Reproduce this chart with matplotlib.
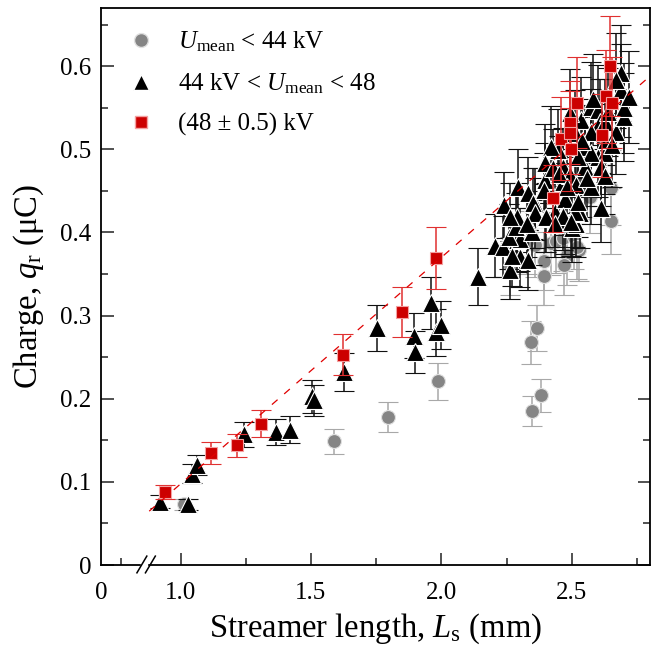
import matplotlib
matplotlib.use("Agg")
import matplotlib.pyplot as plt
from matplotlib.lines import Line2D

plt.rcParams['font.family'] = 'Liberation Serif'
plt.rcParams['mathtext.fontset'] = 'custom'
plt.rcParams['mathtext.rm'] = 'Liberation Serif'
plt.rcParams['mathtext.it'] = 'Liberation Serif:italic'

# U_mean < 44 kV (grey circles)
low_x = [1.015, 1.588, 1.794, 1.989, 2.344, 2.366, 2.347, 2.382, 2.393, 2.393,
         2.359, 2.42, 2.481, 2.469, 2.527, 2.649, 2.569, 2.649, 2.263, 2.33,
         2.44, 2.465, 2.508, 2.52]
low_y = [0.073, 0.149, 0.178, 0.221, 0.268, 0.285, 0.185, 0.204, 0.348, 0.366,
         0.385, 0.387, 0.373, 0.361, 0.379, 0.414, 0.443, 0.454, 0.360, 0.388,
         0.390, 0.393, 0.395, 0.382]
low_err = [0.007, 0.015, 0.018, 0.022, 0.026, 0.028, 0.018, 0.020, 0.035, 0.035,
           0.038, 0.038, 0.036, 0.036, 0.037, 0.040, 0.044, 0.045, 0.035, 0.038,
           0.039, 0.039, 0.039, 0.038]

# 44 kV < U_mean < 48 kV (black triangles)
mid_x = [0.92, 1.03, 1.045, 1.065, 1.245, 1.365, 1.42, 1.505, 1.51, 1.625,
         1.752, 1.895, 1.90, 1.962, 1.98, 2.0, 2.14,
         2.205, 2.237, 2.263, 2.301, 2.332, 2.29, 2.30, 2.26, 2.286, 2.29,
         2.347, 2.397, 2.435, 2.473, 2.50, 2.515, 2.531, 2.611, 2.359, 2.24,
         2.294, 2.332, 2.263, 2.351, 2.36, 2.397, 2.393, 2.466, 2.466, 2.447,
         2.492, 2.515, 2.55, 2.55, 2.534, 2.573, 2.60, 2.607, 2.626, 2.573,
         2.60, 2.626, 2.63, 2.668, 2.702, 2.70, 2.687, 2.687, 2.721, 2.668,
         2.573, 2.611, 2.523, 2.511, 2.492, 2.42, 2.397, 2.427, 2.473, 2.511,
         2.523, 2.573, 2.626, 2.40, 2.466, 2.435, 2.496,
         2.27, 2.33, 2.45, 2.48, 2.56, 2.64, 2.655, 2.58, 2.54]
mid_y = [0.076, 0.073, 0.110, 0.120, 0.157, 0.160, 0.163, 0.203, 0.198, 0.232,
         0.285, 0.276, 0.256, 0.315, 0.280, 0.289, 0.347,
         0.384, 0.383, 0.355, 0.370, 0.367, 0.391, 0.392, 0.395, 0.407, 0.418,
         0.400, 0.417, 0.425, 0.415, 0.405, 0.410, 0.423, 0.430, 0.434, 0.433,
         0.455, 0.447, 0.419, 0.435, 0.423, 0.463, 0.451, 0.461, 0.479, 0.499,
         0.469, 0.457, 0.479, 0.503, 0.535, 0.551, 0.547, 0.533, 0.533, 0.521,
         0.491, 0.495, 0.511, 0.521, 0.539, 0.550, 0.592, 0.571, 0.563, 0.583,
         0.495, 0.479, 0.491, 0.520, 0.544, 0.503, 0.483, 0.477, 0.440, 0.425,
         0.437, 0.455, 0.468, 0.418, 0.420, 0.410, 0.412,
         0.372, 0.410, 0.470, 0.455, 0.465, 0.545, 0.505, 0.560, 0.510]
mid_err = [0.008, 0.007, 0.011, 0.012, 0.015, 0.016, 0.016, 0.020, 0.019, 0.023,
           0.028, 0.027, 0.025, 0.031, 0.028, 0.029, 0.034,
           0.038, 0.037, 0.035, 0.036, 0.036, 0.039, 0.038, 0.039, 0.040, 0.041,
           0.039, 0.041, 0.042, 0.041, 0.040, 0.040, 0.042, 0.042, 0.043, 0.040,
           0.045, 0.044, 0.041, 0.043, 0.042, 0.045, 0.044, 0.046, 0.047, 0.049,
           0.046, 0.045, 0.047, 0.050, 0.052, 0.054, 0.054, 0.052, 0.052, 0.051,
           0.048, 0.049, 0.050, 0.051, 0.053, 0.054, 0.058, 0.056, 0.055, 0.057,
           0.049, 0.047, 0.048, 0.051, 0.053, 0.049, 0.047, 0.047, 0.043, 0.042,
           0.043, 0.045, 0.046, 0.041, 0.041, 0.040, 0.040,
           0.036, 0.040, 0.046, 0.045, 0.046, 0.053, 0.050, 0.055, 0.050]

# U_mean = (48 +/- 0.5) kV (red squares)
hi_x = [0.939, 1.118, 1.218, 1.309, 1.622, 1.851, 1.981, 2.427, 2.458, 2.492,
        2.492, 2.496, 2.519, 2.615, 2.63, 2.656, 2.645]
hi_y = [0.088, 0.135, 0.144, 0.170, 0.253, 0.304, 0.369, 0.441, 0.513, 0.532,
        0.520, 0.500, 0.556, 0.517, 0.564, 0.556, 0.600]
hi_err = [0.008, 0.013, 0.014, 0.016, 0.025, 0.030, 0.037, 0.040, 0.050, 0.050,
          0.050, 0.050, 0.055, 0.050, 0.056, 0.055, 0.060]

# linear fit through the 48 kV points
fit_x = [0.88, 2.8]
fit_slope = 0.2725
fit_icpt = -0.175

x_ticks = [0.695, 1.0, 1.5, 2.0, 2.5]
x_ticklabels = ['0', '1.0', '1.5', '2.0', '2.5']
y_ticks = [0, 0.1, 0.2, 0.3, 0.4, 0.5, 0.6]

fig = plt.figure(figsize=(6.51, 6.49), dpi=100)
ax = fig.add_axes([0.1551, 0.1294, 0.8434, 0.8583])

ax.errorbar(low_x, low_y, yerr=low_err, fmt='o', ms=10, mfc='#858585', mec='#e0e0e0',
            mew=0.8, ecolor='#a8a8a8', elinewidth=1.1, capsize=7.5, capthick=1.1, zorder=2)
ax.errorbar(mid_x, mid_y, yerr=mid_err, fmt='^', ms=12.5, mfc='black', mec='white',
            mew=0.8, ecolor='#111111', elinewidth=1.1, capsize=7.5, capthick=1.1, zorder=3)
ax.errorbar(hi_x, hi_y, yerr=hi_err, fmt='s', ms=9, mfc='#cc0000', mec='#f4a0a0',
            mew=0.8, ecolor='#e03030', elinewidth=1.1, capsize=7.5, capthick=1.1, zorder=4)

fit_y = [fit_slope * v + fit_icpt for v in fit_x]
ax.plot(fit_x, fit_y, color='#e00000', lw=0.9, dashes=(6, 7), zorder=5)

ax.set_xlim(0.695, 2.8)
ax.set_ylim(0, 0.67)
ax.set_xticks(x_ticks)
ax.set_xticklabels(x_ticklabels)
ax.set_xticks([0.771, 1.25, 1.75, 2.25, 2.75], minor=True)
ax.set_yticks(y_ticks)
ax.set_yticklabels(['0', '0.1', '0.2', '0.3', '0.4', '0.5', '0.6'])
ax.set_yticks([0.05, 0.15, 0.25, 0.35, 0.45, 0.55, 0.65], minor=True)
ax.tick_params(which='both', direction='in', labelsize=18, width=1.2, color='#333333',
               right=True, top=False)
ax.tick_params(axis='x', pad=12)
ax.tick_params(axis='y', pad=7)
ax.tick_params(which='major', length=9)
ax.tick_params(which='minor', length=5)
ax.xaxis.get_major_ticks()[0].tick1line.set_visible(False)
for s in ax.spines.values():
    s.set_linewidth(1.3)

ax.set_xlabel('Streamer length, $L_\\mathrm{s}$ (mm)', fontsize=23.5, labelpad=6)
ax.set_ylabel('Charge, $q_\\mathrm{r}$ (\u03bcC)', fontsize=23.5, labelpad=10)

# axis break marks
ax.add_patch(plt.Rectangle((0.0737, -0.012), 0.011, 0.024, transform=ax.transAxes,
                           color='white', clip_on=False, zorder=10))
for x0 in [0.0655, 0.081]:
    ax.plot([x0, x0 + 0.018], [-0.014, 0.016], transform=ax.transAxes, color='black',
            lw=1.1, clip_on=False, zorder=11)

handles = [
    Line2D([], [], ls='none', marker='o', ms=10, mfc='#858585', mec='#e0e0e0'),
    Line2D([], [], ls='none', marker='^', ms=12, mfc='black', mec='white'),
    Line2D([], [], ls='none', marker='s', ms=9, mfc='#cc0000', mec='#f4a0a0'),
]
labels = ['$U_\\mathrm{mean}$ < 44 kV',
          '44 kV < $U_\\mathrm{mean}$ < 48',
          '(48 \u00b1 0.5) kV']
ax.legend(handles, labels, loc='upper left', bbox_to_anchor=(0.022, 0.988), frameon=False,
          fontsize=18, handlelength=1.0, handletextpad=1.0, labelspacing=0.68,
          borderaxespad=0.2)

fig.savefig('out.png', dpi=100)
